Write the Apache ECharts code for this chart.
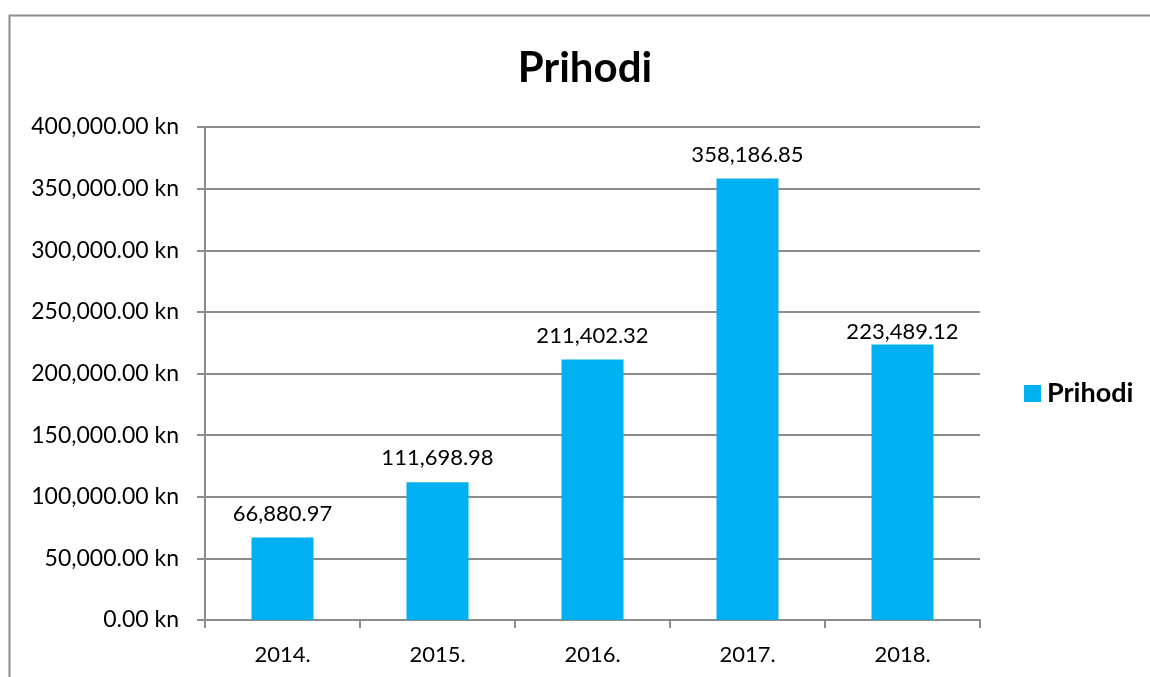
<!DOCTYPE html>
<html>
<head>
<meta charset="utf-8">
<script src="https://cdn.jsdelivr.net/npm/echarts@6/dist/echarts.min.js"></script>
<style>
  html, body { margin: 0; padding: 0; background: #fff; }
  #chart { width: 1150px; height: 677px; }
</style>
</head>
<body>
<div id="chart"></div>
<script>
const categories = ['2014.', '2015.', '2016.', '2017.', '2018.'];
const prihodi = [66880.97, 111698.98, 211402.32, 358186.85, 223489.12];

const fmt = (v) => v.toLocaleString('en-US', { minimumFractionDigits: 2, maximumFractionDigits: 2 });
const font = 'Lato, "Liberation Sans", sans-serif';

let chart = echarts.init(document.getElementById('chart'));

// zadnji label je u originalu spušten bliže stupcu
const seriesData = prihodi.map((v, i) => (i === prihodi.length - 1 ? { value: v, label: { distance: 2 } } : v));

let option = {
  backgroundColor: '#fff',
  animation: false,
  graphic: [
    {
      type: 'rect',
      shape: { x: 9.5, y: 15.5, width: 1200, height: 700 },
      style: { fill: 'none', stroke: '#8c8c8c', lineWidth: 2 },
      silent: true,
    },
  ],
  title: {
    text: 'Prihodi',
    left: 585,
    top: 47,
    padding: 0,
    textAlign: 'center',
    textStyle: { fontFamily: font, fontSize: 42, fontWeight: 'bold', color: '#000' },
  },
  legend: {
    data: ['Prihodi'],
    orient: 'vertical',
    left: 1024,
    top: 380,
    padding: 0,
    itemWidth: 17,
    itemHeight: 17,
    icon: 'rect',
    textStyle: { fontFamily: font, fontSize: 27, fontWeight: 'bold', color: '#000', padding: [0, 0, 0, 1] },
  },
  grid: { left: 205, right: 170, top: 127, bottom: 57 },
  xAxis: {
    type: 'category',
    data: categories,
    axisLine: { lineStyle: { color: '#8c8c8c', width: 2 } },
    axisTick: { show: true, length: 8, lineStyle: { color: '#8c8c8c', width: 2 } },
    axisLabel: { fontFamily: font, fontSize: 22, color: '#000', margin: 24 },
  },
  yAxis: {
    type: 'value',
    min: 0,
    max: 400000,
    interval: 50000,
    axisLine: { show: true, lineStyle: { color: '#8c8c8c', width: 2 } },
    axisTick: { show: true, length: 8, lineStyle: { color: '#8c8c8c', width: 2 } },
    splitLine: { lineStyle: { color: '#8c8c8c', width: 2 } },
    axisLabel: {
      fontFamily: font,
      fontSize: 23,
      color: '#000',
      margin: 26,
      formatter: (v) => fmt(v) + ' kn',
    },
  },
  series: [
    {
      name: 'Prihodi',
      type: 'bar',
      data: seriesData,
      barWidth: '40%',
      itemStyle: { color: '#00B0F0' },
      label: {
        show: true,
        position: 'top',
        distance: 13,
        fontFamily: font,
        fontSize: 22,
        color: '#000',
        formatter: (p) => fmt(p.value),
      },
    },
  ],
};
chart.setOption(option, true);
window.addEventListener('resize', function () {
  chart.resize();
});
</script>
</body>
</html>
